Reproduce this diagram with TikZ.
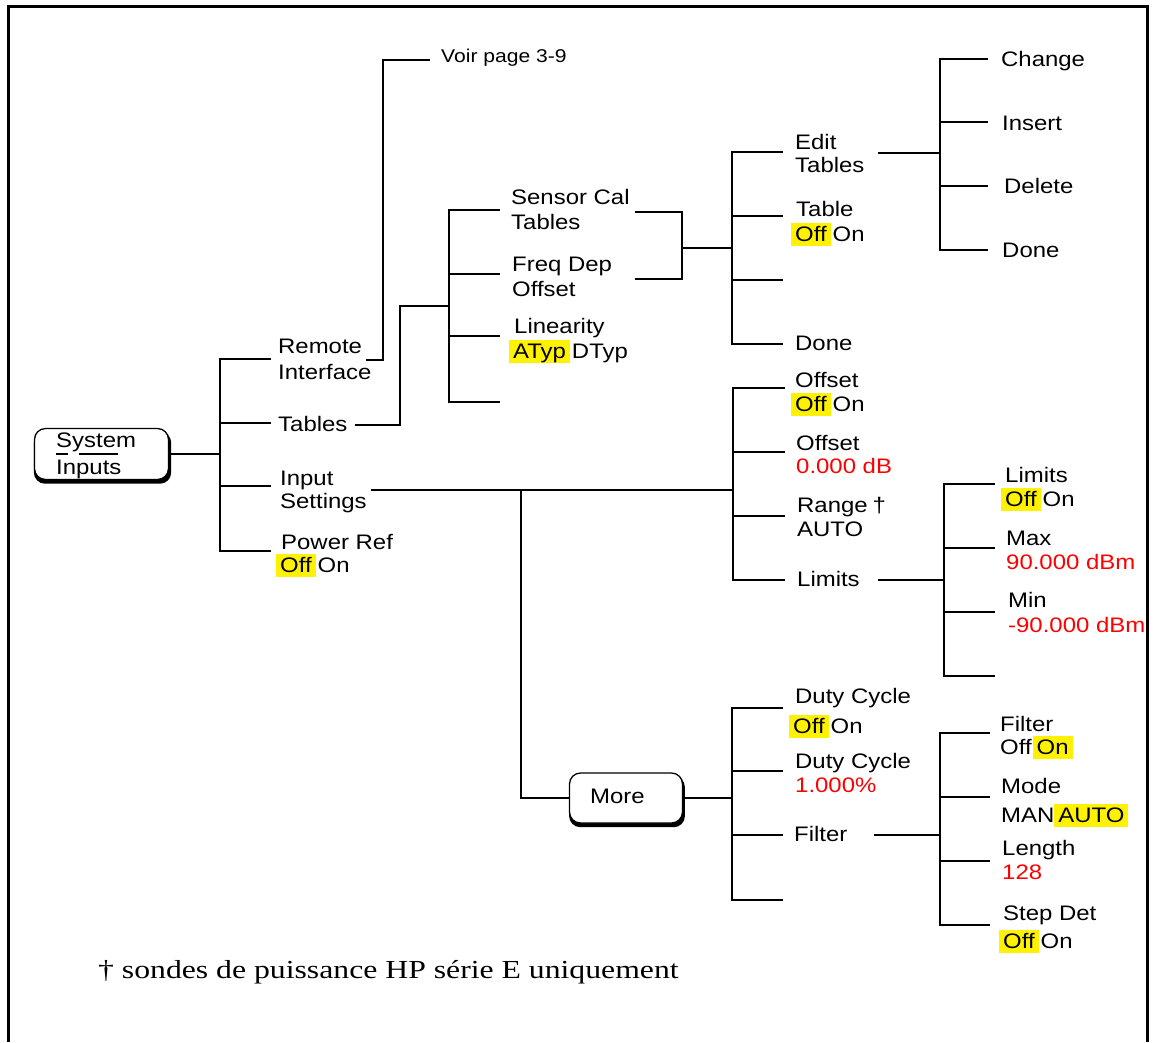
\documentclass[tikz,border=0pt]{standalone}
\usepackage{fontspec}
\setmainfont{Liberation Sans}[FakeStretch=1.14]
\newfontfamily\footfont{Liberation Serif}[FakeStretch=1.22]
\usetikzlibrary{shadows}
\newcommand\lf{\fontsize{21}{25}\selectfont}
\newcommand\hlbox[1]{{\setlength{\fboxsep}{0pt}\colorbox{yellow}{\rule[-5pt]{0pt}{23pt}\kern4pt #1\kern4pt}}}
\tikzset{
  lbl/.style={inner sep=0pt, anchor=base west, font=\lf},
  val/.style={lbl, text=red},
  conn/.style={line width=2.3pt, line cap=rect},
  btn/.style={draw, fill=white, line width=1.3pt, rounded corners=11pt, inner sep=0pt,
    drop shadow={shadow xshift=1pt, shadow yshift=-3.5pt, shadow scale=1.025, opacity=1, fill=black}},
}
\begin{document}
\begin{tikzpicture}[x=1pt,y=-1pt]
\useasboundingbox (0,0) rectangle (1153,1042);
% frame
\draw[line width=3pt] (8,1042) -- (8,6) -- (1147,6) -- (1147,1042);

% buttons
\node[btn, minimum width=134pt, minimum height=51pt] (sys) at (101.5,454) {};
\node[lbl] (sysA) at (56,447) {System};
\node[lbl] (sysB) at (56,474) {Inputs};
\draw[line width=1.5pt] (56,454) -- (68,454) (79,454) -- (118,454);

\node[btn, minimum width=113pt, minimum height=50pt] (more) at (626,798) {};
\node[lbl] (moreT) at (590,803) {More};

% level 1 labels
\node[lbl] (rem) at (278,353) {Remote};
\node[lbl] (remB) at (278,379) {Interface};
\node[lbl] (tab) at (278,431) {Tables};
\node[lbl] (inp) at (280,485) {Input};
\node[lbl] (inpB) at (280,508) {Settings};
\node[lbl] (pwr) at (281,549) {Power Ref};
\node[lbl] (pwrB) at (276,572) {\hlbox{Off}\kern2pt On};
\node[lbl, font=\fontsize{18.5}{22}\selectfont] (voir) at (441,62) {Voir page 3-9};

% level 1 connectors
\coordinate (j1) at (220,454);
\draw[conn] (sys.east) -- (j1);
\draw[conn] (220,359) -- (220,551);
\foreach \y in {359,423,486,551} \draw[conn] (220,\y) -- (270,\y);
\draw[conn] (367,360) -- (383,360) -- (383,60) -- (429,60);
\draw[conn] (356,425) -- (400,425) -- (400,306) -- (449,306);

% tables submenu
\draw[conn] (449,210) -- (449,402);
\foreach \y in {210,274,336,402} \draw[conn] (449,\y) -- (499,\y);
\node[lbl] (sc) at (511,204) {Sensor Cal};
\node[lbl] (scB) at (511,229) {Tables};
\node[lbl] (fd) at (512,271) {Freq Dep};
\node[lbl] (fdB) at (512,296) {Offset};
\node[lbl] (lin) at (514,333) {Linearity};
\node[lbl] (linB) at (509,358) {\hlbox{ATyp}\kern2pt DTyp};

\draw[conn] (636,212) -- (682,212) -- (682,279) -- (636,279);
\draw[conn] (682,248) -- (732,248);
\draw[conn] (732,152) -- (732,344);
\foreach \y in {152,216,280,344} \draw[conn] (732,\y) -- (782,\y);
\node[lbl] (ed) at (795,149) {Edit};
\node[lbl] (edB) at (795,172) {Tables};
\node[lbl] (tb) at (796,216) {Table};
\node[lbl] (tbB) at (791,241) {\hlbox{Off}\kern2pt On};
\node[lbl] (dn1) at (795,350) {Done};

\draw[conn] (879,153) -- (940,153);
\draw[conn] (940,59) -- (940,250);
\foreach \y in {59,122,186,250} \draw[conn] (940,\y) -- (987,\y);
\node[lbl] (chg) at (1001,66) {Change};
\node[lbl] (ins) at (1002,130) {Insert};
\node[lbl] (del) at (1004,193) {Delete};
\node[lbl] (dn2) at (1002,257) {Done};

% input settings
\draw[conn] (372,490) -- (733,490);
\draw[conn] (733,388) -- (733,580);
\foreach \y in {388,452,516,580} \draw[conn] (733,\y) -- (784,\y);
\node[lbl] (of1) at (795,387) {Offset};
\node[lbl] (of1B) at (791,411) {\hlbox{Off}\kern2pt On};
\node[lbl] (of2) at (796,450) {Offset};
\node[val] (of2B) at (796,473) {0.000 dB};
\node[lbl] (rng) at (797,512) {Range\kern5pt†};
\node[lbl] (rngB) at (797,536) {AUTO};
\node[lbl] (lim) at (797,586) {Limits};

\draw[conn] (879,580) -- (944,580);
\draw[conn] (944,484) -- (944,676);
\foreach \y in {484,548,612,676} \draw[conn] (944,\y) -- (994,\y);
\node[lbl] (l1) at (1005,482) {Limits};
\node[lbl] (l1B) at (1001,506) {\hlbox{Off}\kern2pt On};
\node[lbl] (mx) at (1006,545) {Max};
\node[val] (mxB) at (1006,569) {90.000 dBm};
\node[lbl] (mn) at (1008,607) {Min};
\node[val] (mnB) at (1008,632) {-90.000 dBm};

% more
\draw[conn] (521,490) -- (521,798) -- (more.west);
\draw[conn] (more.east) -- (732,798);
\draw[conn] (732,708) -- (732,900);
\foreach \y in {708,771,835,900} \draw[conn] (732,\y) -- (782,\y);
\node[lbl] (dc1) at (795,703) {Duty Cycle};
\node[lbl] (dc1B) at (789,733) {\hlbox{Off}\kern2pt On};
\node[lbl] (dc2) at (795,768) {Duty Cycle};
\node[val] (dc2B) at (795,792) {1.000\%};
\node[lbl] (flt) at (794,841) {Filter};

\draw[conn] (875,835) -- (940,835);
\draw[conn] (940,733) -- (940,925);
\foreach \y in {733,797,861,925} \draw[conn] (940,\y) -- (989,\y);
\node[lbl] (f1) at (1000,731) {Filter};
\node[lbl] (f1B) at (1000,754) {Off\kern1pt\hlbox{On}};
\node[lbl] (md) at (1001,793) {Mode};
\node[lbl] (mdB) at (1001,822) {MAN\hlbox{AUTO}};
\node[lbl] (ln) at (1002,855) {Length};
\node[val] (lnB) at (1002,879) {128};
\node[lbl] (sd) at (1003,920) {Step Det};
\node[lbl] (sdB) at (999,948) {\hlbox{Off}\kern2pt On};

% footnote
\node[inner sep=0pt, anchor=base west, font=\footfont\fontsize{26}{30}\selectfont] (fn) at (98,978) {† sondes de puissance HP série E uniquement};
\end{tikzpicture}
\end{document}
